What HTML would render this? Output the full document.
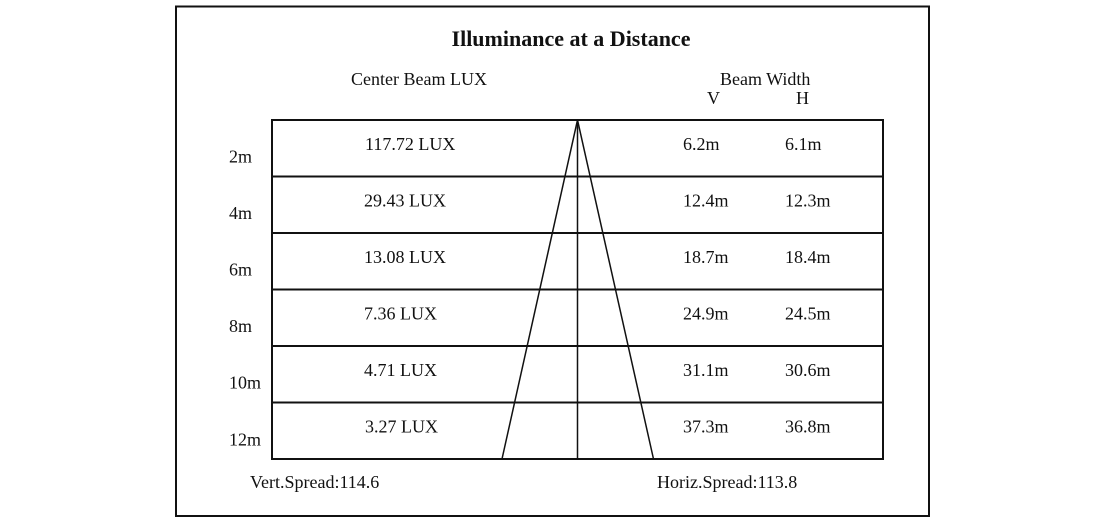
<!DOCTYPE html>
<html>
<head>
<meta charset="utf-8">
<style>
  html,body{margin:0;padding:0;background:#fff;}
  body{width:1100px;height:520px;overflow:hidden;}
  svg{display:block;}
  text{font-family:"Liberation Serif","Times New Roman",serif;fill:#111;font-size:18px;}
</style>
</head>
<body>
<svg width="1100" height="520" viewBox="0 0 1100 520" xmlns="http://www.w3.org/2000/svg">
  <rect x="0" y="0" width="1100" height="520" fill="#fff"/>
  <!-- outer border -->
  <rect x="176" y="6.5" width="753" height="509.5" fill="none" stroke="#111" stroke-width="2"/>

  <!-- title -->
  <text x="571" y="46" text-anchor="middle" style="font-weight:bold;font-size:22px">Illuminance at a Distance</text>

  <!-- headers -->
  <text x="351" y="85">Center Beam LUX</text>
  <text x="720" y="85">Beam Width</text>
  <text x="707" y="104">V</text>
  <text x="796" y="104">H</text>

  <!-- table -->
  <g stroke="#111" stroke-width="2" fill="none">
    <rect x="272" y="120" width="611" height="339"/>
    <line x1="272" y1="176.5" x2="883" y2="176.5"/>
    <line x1="272" y1="233" x2="883" y2="233"/>
    <line x1="272" y1="289.5" x2="883" y2="289.5"/>
    <line x1="272" y1="346" x2="883" y2="346"/>
    <line x1="272" y1="402.5" x2="883" y2="402.5"/>
  </g>
  <g stroke="#111" stroke-width="1.5" fill="none">
    <line x1="577.5" y1="120" x2="577.5" y2="459"/>
    <line x1="577.5" y1="120" x2="502" y2="459"/>
    <line x1="577.5" y1="120" x2="653.5" y2="459"/>
  </g>

  <!-- distance labels -->
  <text x="229" y="162.5">2m</text>
  <text x="229" y="219">4m</text>
  <text x="229" y="275.5">6m</text>
  <text x="229" y="332">8m</text>
  <text x="229" y="388.5">10m</text>
  <text x="229" y="445.5">12m</text>

  <!-- lux values -->
  <text x="365" y="150">117.72 LUX</text>
  <text x="364" y="206.5">29.43 LUX</text>
  <text x="364" y="263">13.08 LUX</text>
  <text x="364" y="319.5">7.36 LUX</text>
  <text x="364" y="376">4.71 LUX</text>
  <text x="365" y="432.5">3.27 LUX</text>

  <!-- V widths -->
  <text x="683" y="150">6.2m</text>
  <text x="683" y="206.5">12.4m</text>
  <text x="683" y="263">18.7m</text>
  <text x="683" y="319.5">24.9m</text>
  <text x="683" y="376">31.1m</text>
  <text x="683" y="432.5">37.3m</text>

  <!-- H widths -->
  <text x="785" y="150">6.1m</text>
  <text x="785" y="206.5">12.3m</text>
  <text x="785" y="263">18.4m</text>
  <text x="785" y="319.5">24.5m</text>
  <text x="785" y="376">30.6m</text>
  <text x="785" y="432.5">36.8m</text>

  <!-- footer -->
  <text x="250" y="488">Vert.Spread:114.6</text>
  <text x="657" y="488">Horiz.Spread:113.8</text>
</svg>
</body>
</html>
